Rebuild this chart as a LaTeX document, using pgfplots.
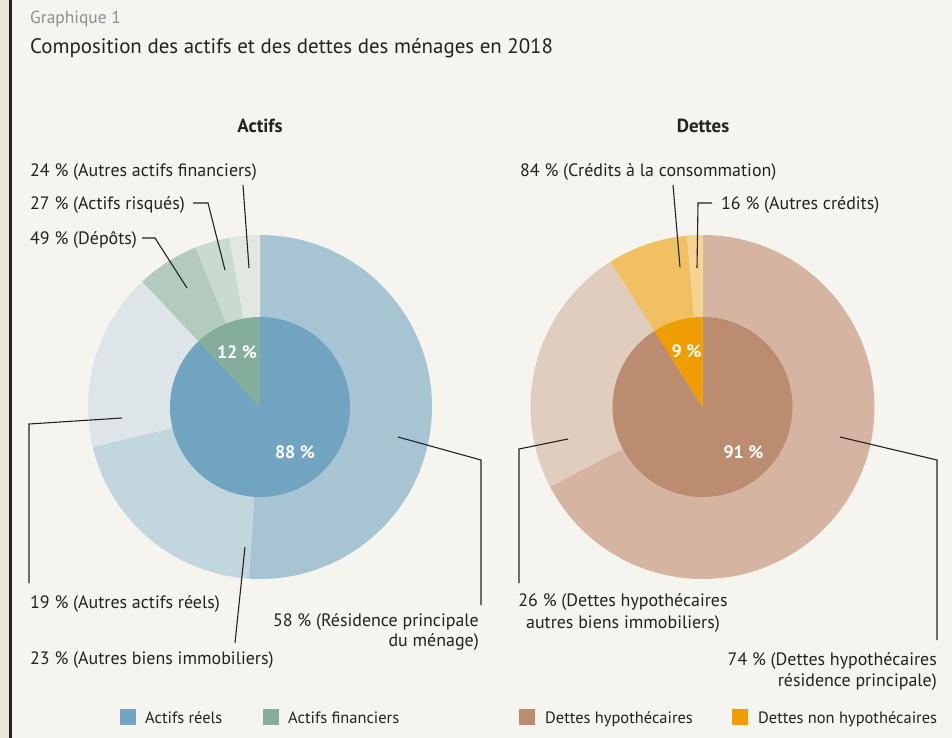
\documentclass[border=0pt]{standalone}
\usepackage{pgfplots}
\pgfplotsset{compat=1.18}
\usepackage{pgfplotstable}
\usepackage{fontspec}
\setmainfont{PT Sans}

\definecolor{bg}{HTML}{F6F4EF}
\definecolor{strip}{HTML}{ECE5DA}
\definecolor{ink}{HTML}{222222}
\definecolor{greyt}{HTML}{8A9096}
% Actifs outer
\definecolor{AO0}{HTML}{A6C4D1}
\definecolor{AO1}{HTML}{C2D6DE}
\definecolor{AO2}{HTML}{DDE5E8}
\definecolor{AO3}{HTML}{B3CBBF}
\definecolor{AO4}{HTML}{C9DAD1}
\definecolor{AO5}{HTML}{E1E7E1}
% Actifs inner
\definecolor{AI0}{HTML}{71A4C1}
\definecolor{AI1}{HTML}{84AD9B}
% Dettes outer
\definecolor{DO0}{HTML}{D5B5A1}
\definecolor{DO1}{HTML}{E0CDBE}
\definecolor{DO2}{HTML}{F1C062}
\definecolor{DO3}{HTML}{F5D393}
% Dettes inner
\definecolor{DI0}{HTML}{BC8C71}
\definecolor{DI1}{HTML}{EE9E00}

\pgfplotstableread{
share sub
88 58
88 23
88 19
12 49
12 27
12 24
}\actifsouter
\pgfplotstableread{
share sub
88 100
12 100
}\actifsinner
\pgfplotstableread{
share sub
91 74
91 26
9 84
9 16
}\dettesouter
\pgfplotstableread{
share sub
91 100
9 100
}\dettesinner

\newcommand\ringangles[2]{%
  \pgfplotstablegetrowsof{#1}%
  \pgfmathtruncatemacro\nlast{\pgfplotsretval-1}%
  \xdef\cumangle{90}%
  \foreach \i in {0,...,\nlast}{%
    \pgfplotstablegetelem{\i}{share}\of{#1}\let\vs\pgfplotsretval
    \pgfplotstablegetelem{\i}{sub}\of{#1}\let\vu\pgfplotsretval
    \pgfmathsetmacro\endangle{\cumangle-(3.6*\vs/100)*\vu}%
    \expandafter\xdef\csname #2s\i\endcsname{\cumangle}%
    \expandafter\xdef\csname #2e\i\endcsname{\endangle}%
    \xdef\cumangle{\endangle}%
  }%
}
\ringangles{\actifsouter}{AO}
\ringangles{\actifsinner}{AI}
\ringangles{\dettesouter}{DO}
\ringangles{\dettesinner}{DI}

\newcommand\slice[4]{%
  \fill[#4] (axis cs:0,0) -- (axis cs:{#1*cos(#2)},{#1*sin(#2)})
    arc[start angle=#2, end angle=#3, radius=#1bp] -- cycle;}

\newcommand\lbl{\fontsize{18}{20}\selectfont}

\begin{document}
\begin{tikzpicture}[x=1bp,y=-1bp]
\useasboundingbox (0,0) rectangle (952,738);
\fill[bg] (0,0) rectangle (952,738);
\fill[strip] (0,0) rectangle (9,738);
\fill[ink] (9,0) rectangle (12,738);

% titles
\node[anchor=base west, inner sep=0, text=greyt, font=\fontsize{17.5}{20}\selectfont] at (30,24) {Graphique 1};
\node[anchor=base west, inner sep=0, text=ink, font=\fontsize{21}{24}\selectfont] at (30,54) {Composition des actifs et des dettes des ménages en 2018};
\node[anchor=base, inner sep=0, text=ink, font=\fontsize{19}{20}\selectfont\bfseries] at (260,132) {Actifs};
\node[anchor=base, inner sep=0, text=ink, font=\fontsize{19}{20}\selectfont\bfseries] at (703,132) {Dettes};

% Actifs pie
\begin{axis}[at={(260bp,-407bp)}, anchor=center, x=1bp, y=1bp,
  xmin=-180, xmax=180, ymin=-180, ymax=180, hide axis, clip=false]
\pgfplotsinvokeforeach{0,...,5}{\slice{172}{\csname AOs#1\endcsname}{\csname AOe#1\endcsname}{AO#1}}
\pgfplotsinvokeforeach{0,1}{\slice{90}{\csname AIs#1\endcsname}{\csname AIe#1\endcsname}{AI#1}}
\node[text=white, font=\fontsize{18}{20}\selectfont\bfseries] at (axis cs:35,-45) {88 \%};
\node[text=white, font=\fontsize{18}{20}\selectfont\bfseries] at (axis cs:-23,55) {12 \%};
\end{axis}

% Dettes pie
\begin{axis}[at={(702.5bp,-407bp)}, anchor=center, x=1bp, y=1bp,
  xmin=-180, xmax=180, ymin=-180, ymax=180, hide axis, clip=false]
\pgfplotsinvokeforeach{0,...,3}{\slice{172}{\csname DOs#1\endcsname}{\csname DOe#1\endcsname}{DO#1}}
\pgfplotsinvokeforeach{0,1}{\slice{90}{\csname DIs#1\endcsname}{\csname DIe#1\endcsname}{DI#1}}
\node[text=white, font=\fontsize{18}{20}\selectfont\bfseries] at (axis cs:41,-45) {91 \%};
\node[text=white, font=\fontsize{18}{20}\selectfont\bfseries] at (axis cs:-16,56) {9 \%};
\end{axis}

% leader lines
\begin{scope}[draw=ink, line width=1.1bp]
\draw (243,185) -- (249,268);
\draw (193,203) -- (208,203) -- (225,270);
\draw (142,238) -- (155,238) -- (187,288);
\draw (122,418) -- (29,424) -- (29,583);
\draw (245,547) -- (235,643);
\draw (398,437) -- (481,460) -- (481,605);
\draw (673,185) -- (680,267);
\draw (712,203) -- (698,203) -- (697,268);
\draw (568,439) -- (519,449) -- (519,583);
\draw (840,437) -- (937,460) -- (937,640);
\end{scope}

% labels
\begin{scope}[every node/.style={inner sep=0, text=ink, font=\lbl}]
\node[anchor=base west] at (30,176) {24 \% (Autres actifs financiers)};
\node[anchor=base west] at (30,209) {27 \% (Actifs risqués)};
\node[anchor=base west] at (30,244) {49 \% (Dépôts)};
\node[anchor=base west] at (30,608) {19 \% (Autres actifs réels)};
\node[anchor=base west] at (30,664) {23 \% (Autres biens immobiliers)};
\node[anchor=base east] at (479,626) {58 \% (Résidence principale};
\node[anchor=base east] at (479,646) {du ménage)};
\node[anchor=base west] at (520,176) {84 \% (Crédits à la consommation)};
\node[anchor=base west] at (721,209) {16 \% (Autres crédits)};
\node[anchor=base] at (623,606) {26 \% (Dettes hypothécaires};
\node[anchor=base] at (623,628) {autres biens immobiliers)};
\node[anchor=base east] at (937,665) {74 \% (Dettes hypothécaires};
\node[anchor=base east] at (937,686) {résidence principale)};
% legend
\fill[AI0] (120,709) rectangle (136,725);
\node[anchor=base west, font=\fontsize{16.5}{18}\selectfont] at (145,723) {Actifs réels};
\fill[AI1] (263,709) rectangle (279,725);
\node[anchor=base west, font=\fontsize{16.5}{18}\selectfont] at (288,723) {Actifs financiers};
\fill[DI0] (519,709) rectangle (535,725);
\node[anchor=base west, font=\fontsize{16.5}{18}\selectfont] at (545,723) {Dettes hypothécaires};
\fill[DI1] (732,709) rectangle (748,725);
\node[anchor=base west, font=\fontsize{16.5}{18}\selectfont] at (758,723) {Dettes non hypothécaires};
\end{scope}
\end{tikzpicture}
\end{document}
